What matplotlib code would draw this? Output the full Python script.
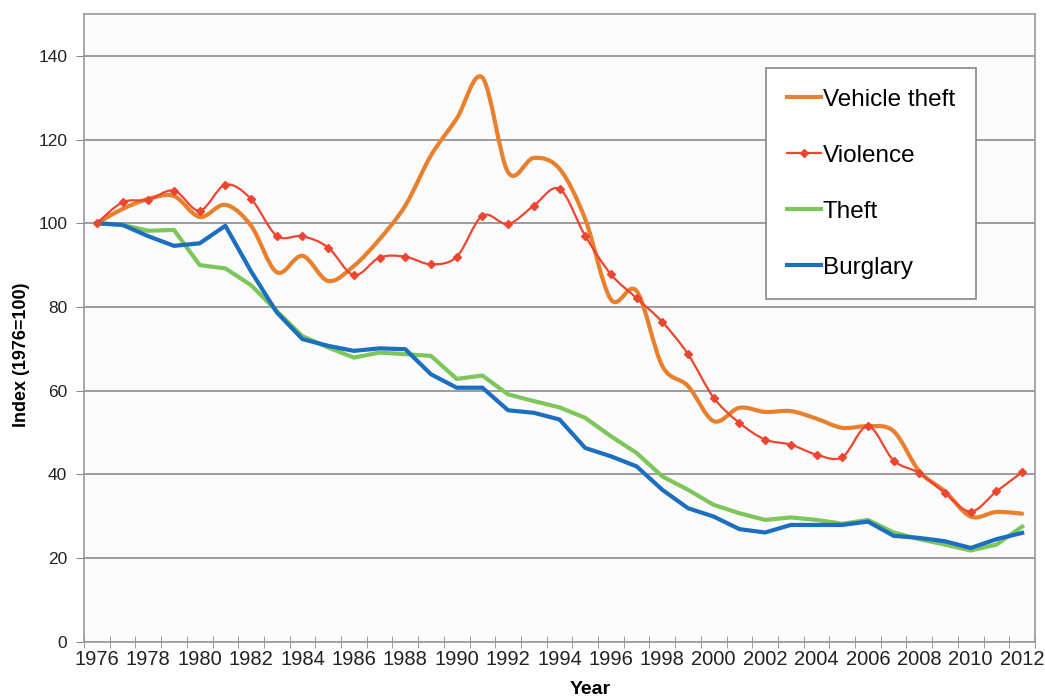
import numpy as np
import matplotlib
matplotlib.use("Agg")
import matplotlib.pyplot as plt
from matplotlib.path import Path
from matplotlib.patches import PathPatch
from matplotlib.lines import Line2D

plt.rcParams['font.family'] = ['Liberation Sans', 'DejaVu Sans']

years = list(range(1976, 2013))

vehicle_theft = [100, 103.4, 105.8, 106.5, 101.5, 104.4, 99.4, 88.3, 92.2, 86.2,
                 89.8, 96.2, 104.2, 116.2, 125.0, 134.8, 112.2, 115.6, 113.0, 101.0,
                 81.8, 83.8, 65.9, 61.1, 52.7, 55.9, 54.9, 55.1, 53.3, 51.1,
                 51.5, 50.3, 40.7, 35.9, 29.9, 31.0, 30.6]
violence = [100, 105.0, 105.6, 107.8, 103.0, 109.2, 105.8, 97.0, 96.9, 94.2,
            87.6, 91.8, 92.0, 90.2, 92.0, 101.8, 99.8, 104.2, 108.2, 97.0,
            87.8, 82.1, 76.4, 68.7, 58.3, 52.3, 48.3, 47.1, 44.7, 44.1,
            51.5, 43.3, 40.3, 35.5, 31.1, 35.9, 40.5]
theft = [100, 99.6, 98.2, 98.4, 90.0, 89.2, 85.2, 79.0, 73.0, 70.3,
         67.9, 69.1, 68.7, 68.3, 62.8, 63.6, 59.1, 57.5, 56.0, 53.5,
         49.1, 45.1, 39.5, 36.3, 32.7, 30.7, 29.1, 29.7, 29.1, 28.2,
         29.1, 26.1, 24.5, 23.2, 21.8, 23.2, 27.5]
burglary = [100, 99.6, 96.9, 94.6, 95.2, 99.4, 88.5, 78.7, 72.3, 70.7,
            69.5, 70.1, 69.9, 63.9, 60.7, 60.7, 55.3, 54.7, 53.1, 46.3,
            44.3, 41.9, 36.3, 31.9, 29.9, 26.9, 26.1, 27.9, 27.9, 27.9,
            28.7, 25.3, 24.8, 24.0, 22.4, 24.5, 26.0]

series_names = ["Vehicle theft", "Violence", "Theft", "Burglary"]
c_vehicle = "#E8802E"
c_violence = "#EE4530"
c_theft = "#7DC65A"
c_burglary = "#1C6EBE"

fig = plt.figure(figsize=(10.45, 6.96), dpi=100)
ax = fig.add_axes([84/1045, 1 - 641.7/696, (1035-84)/1045, (641.7-14)/696])
ax.set_facecolor("#FBFBFB")


def smooth_path(xs, ys):
    xs = np.asarray(xs, float)
    ys = np.asarray(ys, float)
    pts = np.column_stack([xs, ys])
    n = len(pts)
    verts = [pts[0]]
    codes = [Path.MOVETO]
    for i in range(n - 1):
        p0 = pts[i - 1] if i > 0 else pts[i]
        p1 = pts[i]
        p2 = pts[i + 1]
        p3 = pts[i + 2] if i + 2 < n else pts[i + 1]
        c1 = p1 + (p2 - p0) / 6.0
        c2 = p2 - (p3 - p1) / 6.0
        verts += [c1, c2, p2]
        codes += [Path.CURVE4] * 3
    return Path(verts, codes)


# Vehicle theft (smoothed)
ax.add_patch(PathPatch(smooth_path(years, vehicle_theft), fill=False,
                       edgecolor=c_vehicle, lw=3.0, capstyle='round', joinstyle='round', zorder=3))
# Violence (smoothed, with markers)
ax.add_patch(PathPatch(smooth_path(years, violence), fill=False,
                       edgecolor=c_violence, lw=1.6, zorder=4))
ax.plot(years, violence, linestyle='none', marker='D', ms=4, color=c_violence, zorder=5)
# Theft, Burglary (straight)
ax.plot(years, theft, color=c_theft, lw=3.0, solid_joinstyle='round', zorder=3)
ax.plot(years, burglary, color=c_burglary, lw=3.0, solid_joinstyle='round', zorder=3)

ax.set_xlim(1975.5, 2012.5)
ax.set_ylim(0, 150)

ax.set_yticks(np.arange(0, 141, 20))
ax.yaxis.grid(True, color="#8C8C8C", lw=1.2)
ax.set_axisbelow(True)
ax.tick_params(axis='y', direction='out', length=6, color="#888888", labelsize=12.5,
               pad=6, labelcolor="#222222")

ax.set_xticks(years[::2])
ax.set_xticks(np.arange(1975.5, 2013, 1), minor=True)
ax.tick_params(axis='x', which='major', length=0, labelsize=14.5, pad=6, labelcolor="#222222")
ax.tick_params(axis='x', which='minor', direction='inout', length=8, color="#888888")

for s in ax.spines.values():
    s.set_color("#999999")
    s.set_linewidth(1.2)

fig.text(22/1045, 1 - 355/696, "Index (1976=100)", rotation=90, ha='center', va='center',
         fontsize=13, fontweight='bold')
fig.text(590/1045, 1 - 689/696, "Year", ha='center', va='center', fontsize=14, fontweight='bold')

handles = [
    Line2D([], [], color=c_vehicle, lw=3.0),
    Line2D([], [], color=c_violence, lw=1.6, marker='D', ms=4),
    Line2D([], [], color=c_theft, lw=3.0),
    Line2D([], [], color=c_burglary, lw=3.0),
]
leg = ax.legend(handles, series_names, loc='upper left', bbox_to_anchor=(0.717, 0.914),
                fontsize=17.5, frameon=True, fancybox=False, edgecolor="#888888",
                handlelength=1.4, handletextpad=0.1, labelspacing=1.4,
                borderpad=0.85, borderaxespad=0)
leg.get_frame().set_linewidth(1.2)
leg.get_frame().set_facecolor("white")
leg.get_frame().set_alpha(1)

fig.savefig("out.png", dpi=100)
